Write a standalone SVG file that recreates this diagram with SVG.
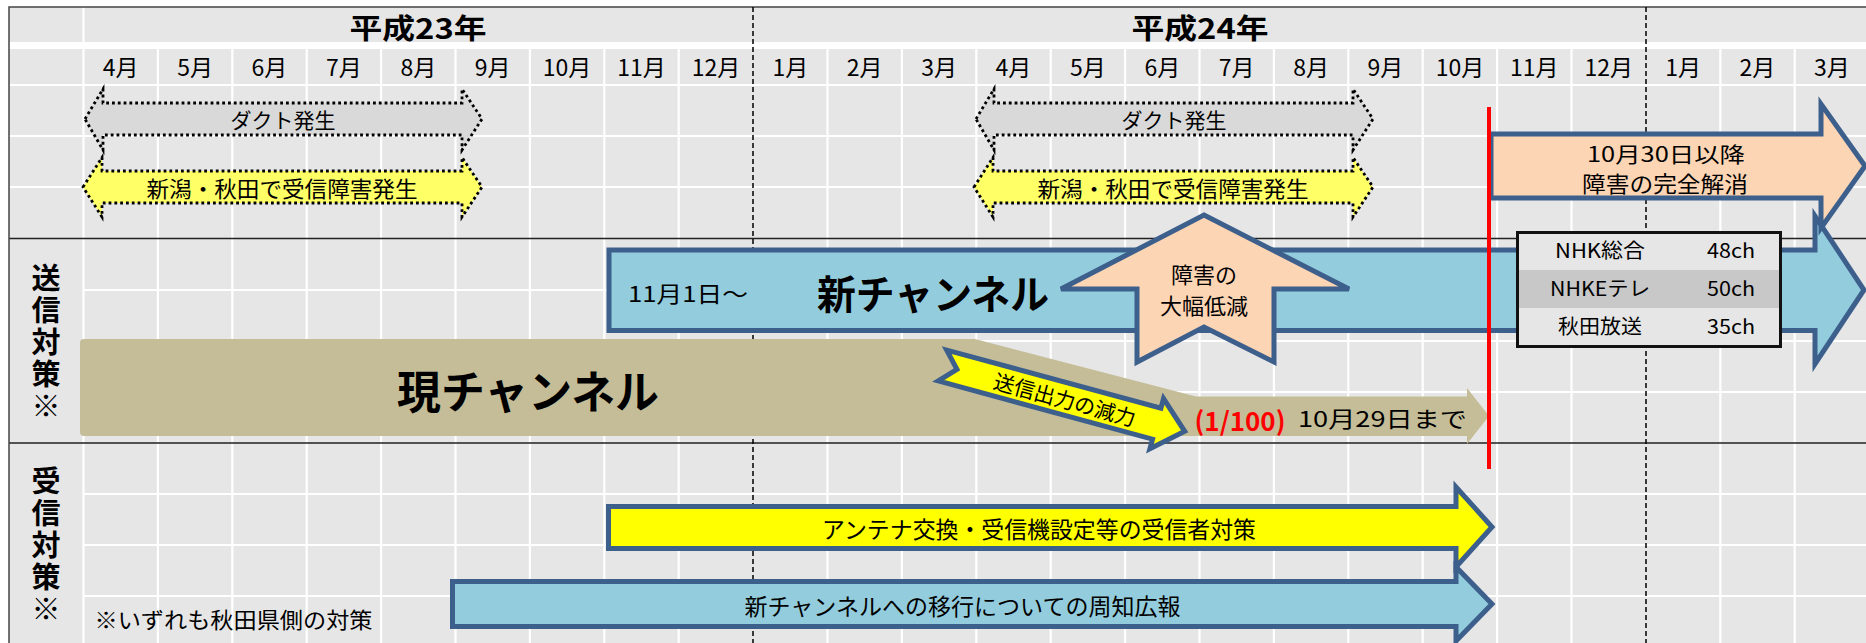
<svg xmlns="http://www.w3.org/2000/svg" width="1866" height="643" viewBox="0 0 1866 643">
<defs>
<style>
.t{font-family:"Noto Sans CJK JP","Noto Sans",sans-serif;fill:#000;text-anchor:middle;dominant-baseline:central}
.b{font-weight:bold}
.red{fill:#ff0000}
.wl{stroke:#fff;stroke-width:2.2;fill:none}
.bl{stroke:#222;stroke-width:1.5;fill:none}
.dash{stroke:#000;stroke-width:1.5;stroke-dasharray:5 3;fill:none}
.dot{stroke:#000;stroke-width:2.8;stroke-dasharray:2.8 3;stroke-linejoin:miter}
.blue{stroke:#3d5f8c;stroke-width:5;stroke-linejoin:miter}
.mon{font-size:23px}
.sec{font-size:29px;font-weight:bold;writing-mode:vertical-rl;letter-spacing:3px}
</style>
</defs>
<rect x="0" y="0" width="1866" height="643" fill="#fff"/>
<g id="grid">
<rect x="9" y="7" width="1857" height="636" fill="#e6e6e6"/>
<rect x="9" y="42" width="1857" height="7" fill="#fff"/>
<path class="wl" d="M9,85H1866M9,136H1866M9,187H1866M83,290H1866M83,341H1866M83,392H1866M83,494H1866M83,545H1866M83,596H1866"/>
<path class="wl" d="M83.5,7V643M157.9,49V643M232.3,49V643M306.7,49V643M381.1,49V643M455.5,49V643M529.9,49V643M604.3,49V643M678.7,49V643M827.5,49V643M901.9,49V643M976.3,49V643M1050.7,49V643M1125.1,49V643M1199.5,49V643M1273.9,49V643M1348.3,49V643M1422.7,49V643M1497.1,49V643M1571.5,49V643M1720.3,49V643M1794.7,49V643"/>
<path class="bl" d="M9,238.5H1866M9,443H1866"/>
<path stroke="#444" stroke-width="1.5" fill="none" d="M9,643V7H1866"/>
<path class="dash" d="M753,7V643M1646,7V643"/>
</g>
<g id="year-labels">
<text class="t b" x="418" y="27" font-size="28" textLength="137" lengthAdjust="spacingAndGlyphs">平成23年</text>
<text class="t b" x="1200" y="27" font-size="28" textLength="137" lengthAdjust="spacingAndGlyphs">平成24年</text>
</g>
<g id="month-labels">
<text class="t mon" x="120.7" y="66">4月</text>
<text class="t mon" x="195.1" y="66">5月</text>
<text class="t mon" x="269.5" y="66">6月</text>
<text class="t mon" x="343.9" y="66">7月</text>
<text class="t mon" x="418.3" y="66">8月</text>
<text class="t mon" x="492.7" y="66">9月</text>
<text class="t mon" x="567.1" y="66">10月</text>
<text class="t mon" x="641.5" y="66">11月</text>
<text class="t mon" x="715.9" y="66">12月</text>
<text class="t mon" x="790.3" y="66">1月</text>
<text class="t mon" x="864.7" y="66">2月</text>
<text class="t mon" x="939.1" y="66">3月</text>
<text class="t mon" x="1013.5" y="66">4月</text>
<text class="t mon" x="1087.9" y="66">5月</text>
<text class="t mon" x="1162.3" y="66">6月</text>
<text class="t mon" x="1236.7" y="66">7月</text>
<text class="t mon" x="1311.1" y="66">8月</text>
<text class="t mon" x="1385.5" y="66">9月</text>
<text class="t mon" x="1459.9" y="66">10月</text>
<text class="t mon" x="1534.3" y="66">11月</text>
<text class="t mon" x="1608.7" y="66">12月</text>
<text class="t mon" x="1683.1" y="66">1月</text>
<text class="t mon" x="1757.5" y="66">2月</text>
<text class="t mon" x="1831.9" y="66">3月</text>
</g>
<g id="section-transmit">
<text class="t sec" x="46" y="343">送信対策※</text>
</g>
<g id="section-receive">
<text class="t sec" x="46" y="546">受信対策※</text>
</g>
<g id="duct-23">
<path class="dot" fill="#d9d9d9" d="M85,119L103,89V103H462V89L482,119L462,150V135H103V150Z"/>
<text class="t" x="283" y="119" font-size="21">ダクト発生</text>
</g>
<g id="interference-23">
<path class="dot" fill="#ffff66" d="M83,187L102,157.5V171H462V157.5L482,187L462,217V203H102V217Z"/>
<text class="t" x="282" y="187" font-size="22" textLength="271" lengthAdjust="spacingAndGlyphs">新潟・秋田で受信障害発生</text>
</g>
<g id="duct-24" transform="translate(891,0)">
<path class="dot" fill="#d9d9d9" d="M85,119L103,89V103H462V89L482,119L462,150V135H103V150Z"/>
<text class="t" x="283" y="119" font-size="21">ダクト発生</text>
</g>
<g id="interference-24" transform="translate(891,0)">
<path class="dot" fill="#ffff66" d="M83,187L102,157.5V171H462V157.5L482,187L462,217V203H102V217Z"/>
<text class="t" x="282" y="187" font-size="22" textLength="271" lengthAdjust="spacingAndGlyphs">新潟・秋田で受信障害発生</text>
</g>
<g id="new-channel">
<path class="blue" fill="#93cddd" d="M609,250H1815V216L1864,290L1815,364V330.5H609Z"/>
<text class="t" x="688" y="292" font-size="22" textLength="120" lengthAdjust="spacingAndGlyphs">11月1日～</text>
<text class="t b" x="933" y="292" font-size="40" textLength="232" lengthAdjust="spacingAndGlyphs">新チャンネル</text>
</g>
<g id="current-channel">
<path fill="#c4bd97" d="M84,339H975L1196,396.5H1467V388L1489,416L1467,444V436H84Q80,436 80,432V343Q80,339 84,339Z"/>
<text class="t b" x="528" y="389" font-size="45" textLength="262" lengthAdjust="spacingAndGlyphs">現チャンネル</text>
<text class="t b red" x="1240" y="419" font-size="26" textLength="91" lengthAdjust="spacingAndGlyphs">(1/100)</text>
<text class="t" x="1382.5" y="417" font-size="22" textLength="169" lengthAdjust="spacingAndGlyphs">10月29日まで</text>
</g>
<g id="reduction-arrow">
<path class="blue" fill="#fcd5b4" d="M1204,215L1349,289H1274V362L1204,327L1137,362V289H1061Z"/>
<text class="t" x="1204" y="273" font-size="22">障害の</text>
<text class="t" x="1204" y="304" font-size="22">大幅低減</text>
</g>
<g id="power-reduction" transform="translate(942.5,365.5) rotate(15.2)">
<path class="blue" fill="#ffff00" stroke-width="4.5" d="M0,-16H222V-26L251,0L222,26V16H0L15,0Z"/>
<text class="t" x="127" y="0" font-size="21" textLength="146" lengthAdjust="spacingAndGlyphs">送信出力の減力</text>
</g>
<g id="resolved">
<path class="blue" fill="#fcd5b4" d="M1491,134H1821V104L1865,166L1821,228V198H1491Z"/>
<text class="t" x="1666" y="153" font-size="21" textLength="158" lengthAdjust="spacingAndGlyphs">10月30日以降</text>
<text class="t" x="1665" y="182" font-size="22" textLength="166" lengthAdjust="spacingAndGlyphs">障害の完全解消</text>
</g>
<g id="channel-table">
<rect x="1517.5" y="232.5" width="263" height="38" fill="#e6e6e6"/>
<rect x="1517.5" y="270" width="263" height="38" fill="#c8c8c8"/>
<rect x="1517.5" y="308" width="263" height="38.5" fill="#e6e6e6"/>
<rect x="1517.5" y="232.5" width="263" height="114" fill="none" stroke="#111" stroke-width="3"/>
<text class="t" x="1600" y="249" font-size="20" textLength="90" lengthAdjust="spacingAndGlyphs">NHK総合</text>
<text class="t" x="1731" y="249" font-size="20" textLength="48" lengthAdjust="spacingAndGlyphs">48ch</text>
<text class="t" x="1600" y="287" font-size="20" textLength="100" lengthAdjust="spacingAndGlyphs">NHKEテレ</text>
<text class="t" x="1731" y="287" font-size="20" textLength="48" lengthAdjust="spacingAndGlyphs">50ch</text>
<text class="t" x="1600" y="325" font-size="20" textLength="84" lengthAdjust="spacingAndGlyphs">秋田放送</text>
<text class="t" x="1731" y="325" font-size="20" textLength="48" lengthAdjust="spacingAndGlyphs">35ch</text>
</g>
<g id="receiver-measures">
<path class="blue" fill="#ffff00" d="M608.5,506.5H1456V487L1492,527L1456,567V548.5H608.5Z"/>
<text class="t" x="1039" y="528" font-size="23" textLength="434" lengthAdjust="spacingAndGlyphs">アンテナ交換・受信機設定等の受信者対策</text>
</g>
<g id="publicity">
<path class="blue" fill="#93cddd" d="M452.5,581.5H1456V567L1492,604L1456,641V626.5H452.5Z"/>
<text class="t" x="962.5" y="605" font-size="23" textLength="436" lengthAdjust="spacingAndGlyphs">新チャンネルへの移行についての周知広報</text>
</g>
<g id="note">
<text class="t" x="233.5" y="618" font-size="22" textLength="278" lengthAdjust="spacingAndGlyphs">※いずれも秋田県側の対策</text>
</g>
<g id="cutoff-line">
<path stroke="#ff0000" stroke-width="4" d="M1489,107V469"/>
</g>
</svg>
